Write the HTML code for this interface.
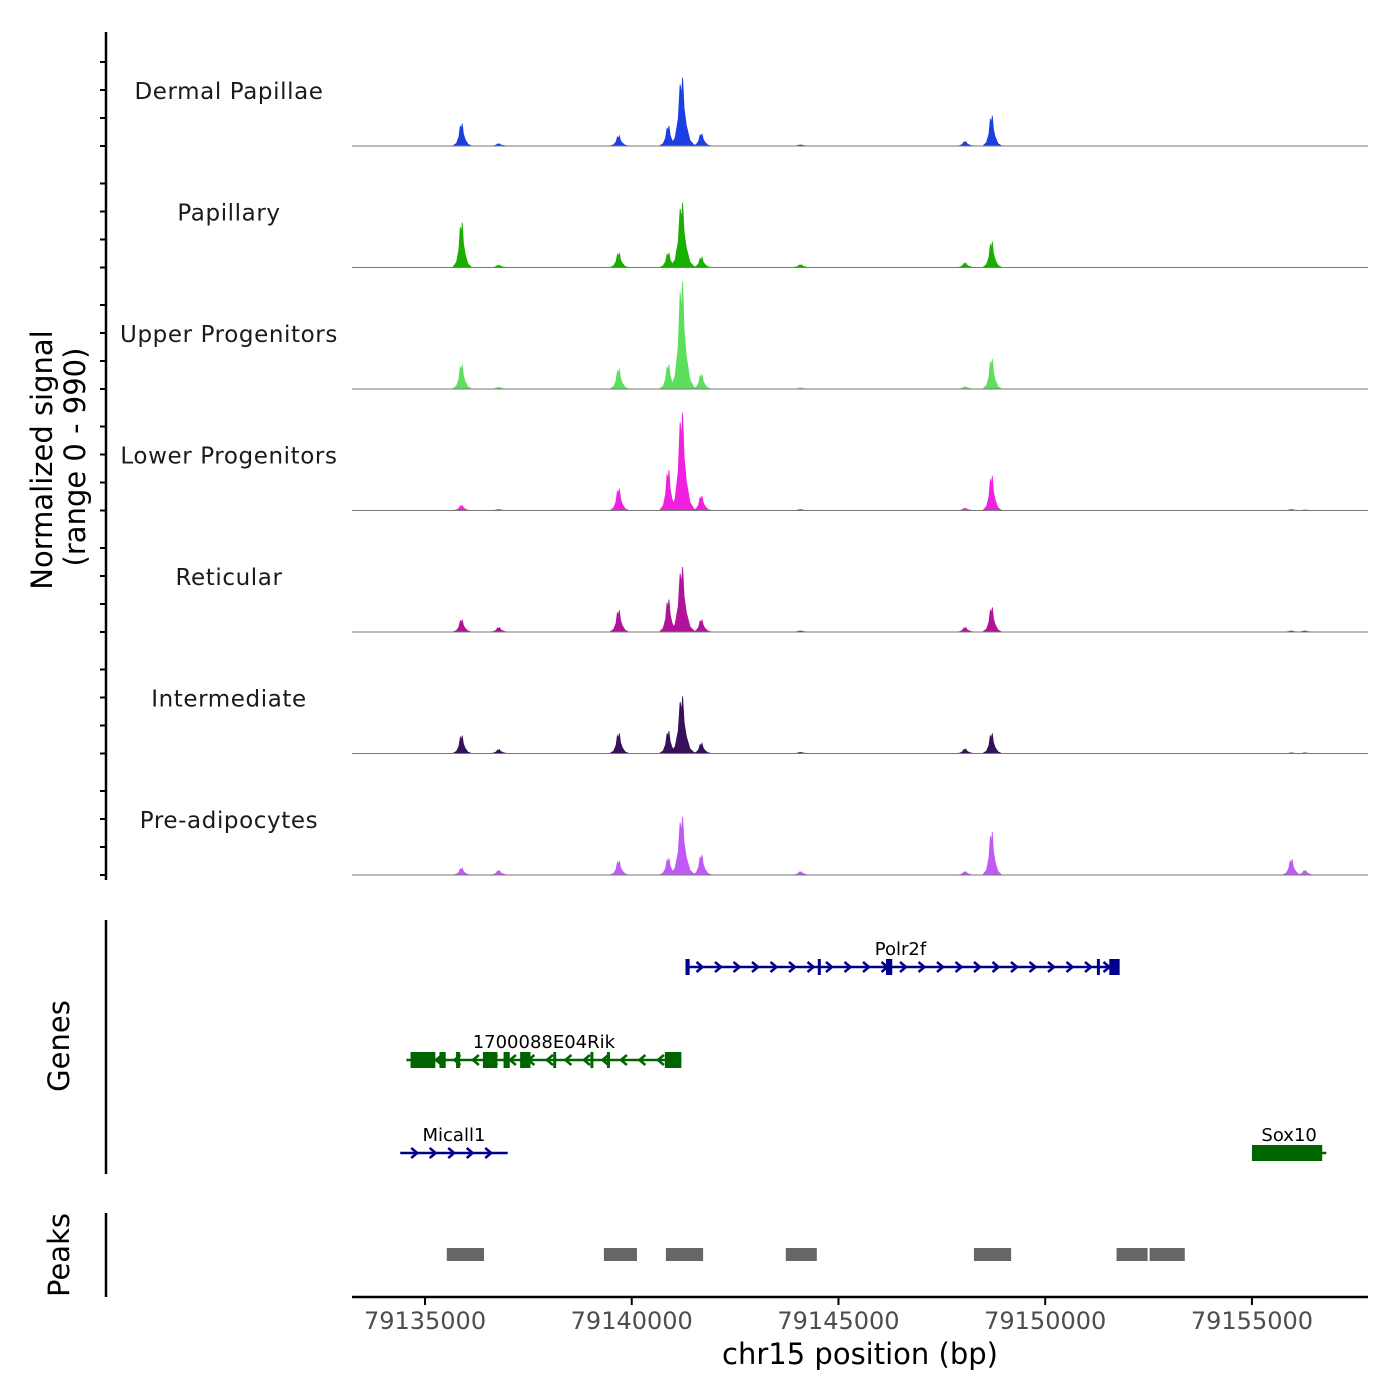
<!DOCTYPE html>
<html><head><meta charset="utf-8">
<style>
html,body{margin:0;padding:0;background:#fff;}
svg{display:block;font-family:"DejaVu Sans","Liberation Sans",sans-serif;}
</style></head>
<body>
<svg id="chart" width="1400" height="1400" viewBox="0 0 1400 1400" xmlns="http://www.w3.org/2000/svg">
<g id="signal-axis"></g>
<g id="tracks"></g>
<g id="genes"></g>
<g id="peaks"></g>
<g id="xaxis"></g>
<text x="52" y="460" transform="rotate(-90 52 460)" text-anchor="middle" font-size="29" fill="#000">Normalized signal</text>
<text x="85" y="457" transform="rotate(-90 85 457)" text-anchor="middle" font-size="29" fill="#000">(range 0 - 990)</text>
<text x="69" y="1046" transform="rotate(-90 69 1046)" text-anchor="middle" font-size="29" fill="#000">Genes</text>
<text x="69" y="1255" transform="rotate(-90 69 1255)" text-anchor="middle" font-size="29" fill="#000">Peaks</text>
<text x="860" y="1364" text-anchor="middle" font-size="29" fill="#000">chr15 position (bp)</text>
</svg>
<script>
const NS="http://www.w3.org/2000/svg";
// ---- data ----
const cellTypes=["Dermal Papillae","Papillary","Upper Progenitors","Lower Progenitors","Reticular","Intermediate","Pre-adipocytes"];
const trackColors=["#1b3fe0","#1aae00","#5ddf5d","#f020e0","#b0129a","#37105a","#c05af5"];
const peakPositions=[79135900,79136800,79139700,79140900,79141230,79141700,79144100,79148080,79148720,79155970,79156300];
const dermalPapillae=[200,20,90,180,610,110,10,40,270,0,0];
const papillary=[400,20,130,130,580,90,25,40,230,0,0];
const upperProgenitors=[220,15,180,220,960,130,10,20,270,0,0];
const lowerProgenitors=[45,10,195,360,875,130,10,20,310,10,5];
const reticular=[110,40,195,290,580,110,10,40,220,10,10];
const intermediate=[160,35,180,200,510,90,10,40,180,5,5];
const preAdipocytes=[60,40,125,150,520,180,30,30,385,140,40];
const signals=[dermalPapillae,papillary,upperProgenitors,lowerProgenitors,reticular,intermediate,preAdipocytes];
const xTicks=[79135000,79140000,79145000,79150000,79155000];
const geneNames=["Polr2f","1700088E04Rik","Micall1","Sox10"];
const geneStarts=[79141300,79134550,79134400,79155000];
const geneEnds=[79151700,79141200,79137000,79156800];
const geneStrand=[1,-1,1,-1];
const geneRows=[0,1,2,2];
const exonStarts=[[79141300,79144500,79146150,79151250,79151550],[79134650,79135350,79135750,79136400,79136900,79137300,79138100,79139000,79139400,79140800],[],[79155000]];
const exonEnds=[[79141400,79144560,79146300,79151300,79151800],[79135250,79135500,79135850,79136750,79137050,79137550,79138150,79139050,79139450,79141200],[],[79156700]];
const peakStarts=[79135550,79139350,79140850,79143750,79148300,79151750,79152550];
const peakEnds=[79136450,79140150,79141750,79144500,79149200,79152500,79153400];
// ---- scales ----
const X0=352,X1=1368,D0=79133234,D1=79157807;
const xs=v=>X0+(v-D0)/(D1-D0)*(X1-X0);
const trackBase=i=>146+i*121.5;
const ys=(i,v)=>trackBase(i)-v*0.112;
function el(tag,attrs,parent){const e=document.createElementNS(NS,tag);for(const k in attrs)e.setAttribute(k,attrs[k]);parent.appendChild(e);return e;}
const tracksG=document.getElementById("tracks");
signals.forEach((vals,i)=>{
  const g=el("g",{},tracksG);
  
  
  const order=peakPositions.map((p,k)=>k).sort((a,b)=>peakPositions[a]-peakPositions[b]);
  order.forEach(k=>{
    const v=vals[k]; if(v<=0)return;
    const c=peakPositions[k],w=v>400?300:230;
    const b=trackBase(i);
    const d="M"+xs(c-w)+","+b+" L"+xs(c-w*0.6)+","+ys(i,v*0.12)+" L"+xs(c-w*0.35)+","+ys(i,v*0.4)+" L"+xs(c-w*0.2)+","+ys(i,v*0.9)+" L"+xs(c-w*0.08)+","+ys(i,v*0.75)+" L"+xs(c)+","+ys(i,v)+" L"+xs(c+w*0.12)+","+ys(i,v*0.55)+" L"+xs(c+w*0.3)+","+ys(i,v*0.3)+" L"+xs(c+w*0.6)+","+ys(i,v*0.08)+" L"+xs(c+w)+","+b+" Z";
    const p=el("path",{d:d,fill:trackColors[i],stroke:trackColors[i],"stroke-width":"0.8"},g);
    
    
  });
  const bl=el("line",{x1:X0,x2:X1,y1:trackBase(i),y2:trackBase(i),stroke:"#777","stroke-width":"1"},g);
  
  
  const t=el("text",{x:229,y:trackBase(i)-47,"text-anchor":"middle","font-size":"23",fill:"#1a1a1a","letter-spacing":"0.6"},g);
  t.textContent=cellTypes[i];
  
  
});
// signal axis
const ax=document.getElementById("signal-axis");
el("line",{x1:106,x2:106,y1:32,y2:880,stroke:"#000","stroke-width":"2.5"},ax);
for(let i=0;i<7;i++){for(let v=0;v<=990;v+=250){el("line",{x1:100,x2:106,y1:ys(i,v),y2:ys(i,v),stroke:"#000","stroke-width":"2"},ax);}}
// genes
const gG=document.getElementById("genes");
el("line",{x1:106,x2:106,y1:920,y2:1174,stroke:"#000","stroke-width":"2.5"},gG);
const rowY=[967,1060,1153];
geneNames.forEach((n,i)=>{
  const g=el("g",{},gG);
  
  
  const col=geneStrand[i]>0?"#00008b":"#006400";
  const y=rowY[geneRows[i]],a=xs(geneStarts[i]),b=xs(geneEnds[i]);
  el("line",{x1:a,x2:b,y1:y,y2:y,stroke:col,"stroke-width":"2.5"},g);
  for(let x=a+14;x<b-6;x+=18.5){
    const s=geneStrand[i];
    el("path",{d:`M${x-3*s},${y-5} L${x+3*s},${y} L${x-3*s},${y+5}`,fill:"none",stroke:col,"stroke-width":"2.5"},g);
  }
  exonStarts[i].forEach((s,k)=>{
    const ea=xs(s),eb=xs(exonEnds[i][k]);
    el("rect",{x:ea,y:y-8,width:Math.max(3,eb-ea),height:16,fill:col},g);
  });
  const t=el("text",{x:(a+b)/2,y:y-12,"text-anchor":"middle","font-size":"18",fill:"#000"},g);
  t.textContent=n;
});
// peaks
const pG=document.getElementById("peaks");
el("line",{x1:106,x2:106,y1:1213,y2:1297,stroke:"#000","stroke-width":"2.5"},pG);
peakStarts.forEach((s,k)=>{
  const r=el("rect",{x:xs(s)-1,y:1248,width:xs(peakEnds[k])-xs(s),height:13,fill:"#666"},pG);
  
  
});
// x axis
const xG=document.getElementById("xaxis");
el("line",{x1:X0,x2:X1,y1:1297,y2:1297,stroke:"#000","stroke-width":"2.5"},xG);
xTicks.forEach(v=>{
  el("line",{x1:xs(v),x2:xs(v),y1:1297,y2:1305,stroke:"#000","stroke-width":"2"},xG);
  const t=el("text",{x:xs(v),y:1329,"text-anchor":"middle","font-size":"24",fill:"#4d4d4d"},xG);
  t.textContent=v;
  
  
});
</script>
</body></html>
